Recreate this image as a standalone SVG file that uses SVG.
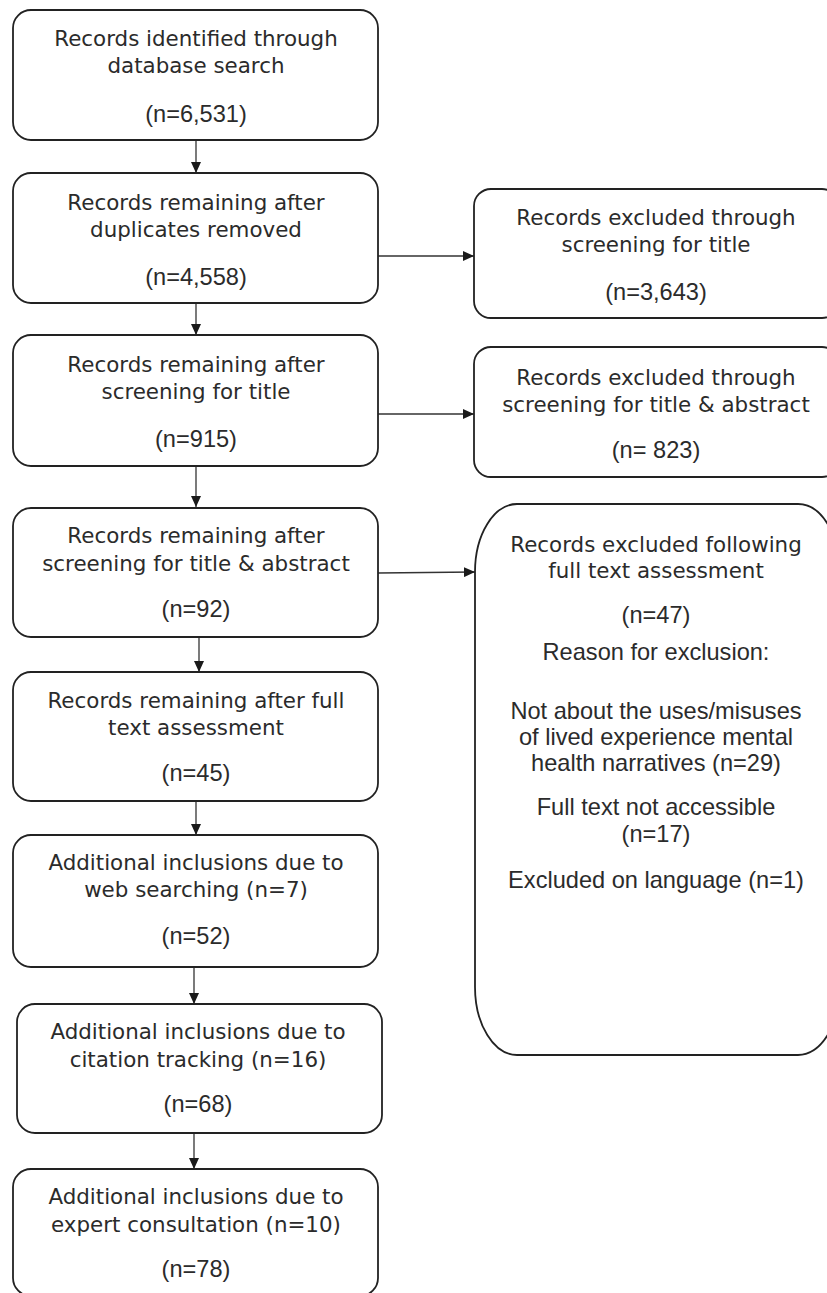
<svg xmlns="http://www.w3.org/2000/svg" width="827" height="1293" viewBox="0 0 827 1293">
<style>
.box{fill:#fff;stroke:#222;stroke-width:1.8}
.t{font-family:"DejaVu Sans",Verdana,sans-serif;font-size:21.4px;fill:#2b2b2b;text-anchor:middle}
.n{font-family:"Liberation Sans",Arial,sans-serif;font-size:23.6px;fill:#2b2b2b;text-anchor:middle}
.c{stroke:#333;stroke-width:1.3;fill:none;marker-end:url(#ah)}
</style>
<defs>
<marker id="ah" markerUnits="userSpaceOnUse" markerWidth="11" markerHeight="10" refX="11" refY="5" orient="auto">
<path d="M0,0 L11,5 L0,10 z" fill="#1a1a1a"/>
</marker>
</defs>
<rect width="827" height="1293" fill="#fff"/>
<g id="connectors">
<line class="c" x1="196" y1="140" x2="196" y2="173"/>
<line class="c" x1="196" y1="303" x2="196" y2="335"/>
<line class="c" x1="196" y1="466" x2="196" y2="507"/>
<line class="c" x1="199" y1="637" x2="199" y2="672"/>
<line class="c" x1="196" y1="801" x2="196" y2="835"/>
<line class="c" x1="194" y1="967" x2="194" y2="1004"/>
<line class="c" x1="194" y1="1133" x2="194" y2="1169"/>
<line class="c" x1="378" y1="256" x2="474" y2="256"/>
<line class="c" x1="378" y1="414" x2="474" y2="414"/>
<line class="c" x1="378" y1="573" x2="475" y2="572"/>
</g>
<g id="n1">
<rect class="box" x="13" y="10" width="365" height="130" rx="18"/>
<text class="t" x="196" y="46">Records identified through</text>
<text class="t" x="196" y="73">database search</text>
<text class="n" x="196" y="122">(n=6,531)</text>
</g>
<g id="n2">
<rect class="box" x="13" y="173" width="365" height="130" rx="18"/>
<text class="t" x="196" y="210">Records remaining after</text>
<text class="t" x="196" y="237">duplicates removed</text>
<text class="n" x="196" y="285">(n=4,558)</text>
</g>
<g id="n3">
<rect class="box" x="13" y="335" width="365" height="131" rx="18"/>
<text class="t" x="196" y="372">Records remaining after</text>
<text class="t" x="196" y="399">screening for title</text>
<text class="n" x="196" y="447">(n=915)</text>
</g>
<g id="n4">
<rect class="box" x="13" y="508" width="365" height="129" rx="18"/>
<text class="t" x="196" y="543">Records remaining after</text>
<text class="t" x="196" y="571">screening for title &amp; abstract</text>
<text class="n" x="196" y="617">(n=92)</text>
</g>
<g id="n5">
<rect class="box" x="13" y="672" width="365" height="129" rx="18"/>
<text class="t" x="196" y="708">Records remaining after full</text>
<text class="t" x="196" y="735">text assessment</text>
<text class="n" x="196" y="781">(n=45)</text>
</g>
<g id="n6">
<rect class="box" x="13" y="835" width="365" height="132" rx="18"/>
<text class="t" x="196" y="870">Additional inclusions due to</text>
<text class="t" x="196" y="897">web searching (n=7)</text>
<text class="n" x="196" y="944">(n=52)</text>
</g>
<g id="n7">
<rect class="box" x="17" y="1004" width="365" height="129" rx="18"/>
<text class="t" x="198" y="1039">Additional inclusions due to</text>
<text class="t" x="198" y="1067">citation tracking (n=16)</text>
<text class="n" x="198" y="1112">(n=68)</text>
</g>
<g id="n8">
<rect class="box" x="13" y="1169" width="365" height="127" rx="18"/>
<text class="t" x="196" y="1204">Additional inclusions due to</text>
<text class="t" x="196" y="1232">expert consultation (n=10)</text>
<text class="n" x="196" y="1277">(n=78)</text>
</g>
<g id="r1">
<rect class="box" x="474" y="189" width="365" height="129" rx="17"/>
<text class="t" x="656" y="225">Records excluded through</text>
<text class="t" x="656" y="252">screening for title</text>
<text class="n" x="656" y="300">(n=3,643)</text>
</g>
<g id="r2">
<rect class="box" x="474" y="347" width="365" height="130" rx="17"/>
<text class="t" x="656" y="385">Records excluded through</text>
<text class="t" x="656" y="412">screening for title &amp; abstract</text>
<text class="n" x="656" y="458">(n= 823)</text>
</g>
<g id="r3">
<rect class="box" x="475" y="504" width="365" height="551" rx="42" ry="68"/>
<text class="t" x="656" y="552">Records excluded following</text>
<text class="t" x="656" y="578">full text assessment</text>
<text class="n" x="656" y="623">(n=47)</text>
<text class="n" x="656" y="660">Reason for exclusion:</text>
<text class="n" x="656" y="719">Not about the uses/misuses</text>
<text class="n" x="656" y="745">of lived experience mental</text>
<text class="n" x="656" y="771">health narratives (n=29)</text>
<text class="n" x="656" y="815">Full text not accessible</text>
<text class="n" x="656" y="842">(n=17)</text>
<text class="n" x="656" y="888">Excluded on language (n=1)</text>
</g>
</svg>
